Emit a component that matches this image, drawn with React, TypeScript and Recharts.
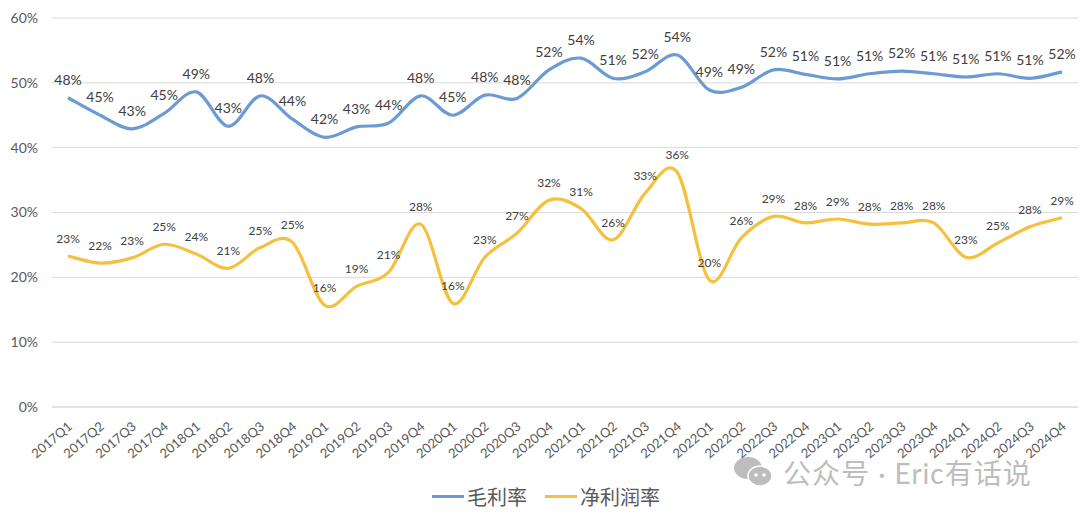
import React from 'react';
import { LineChart, Line, XAxis, YAxis, CartesianGrid, Legend, LabelList } from 'recharts';

const quarters = [
  '2017Q1', '2017Q2', '2017Q3', '2017Q4',
  '2018Q1', '2018Q2', '2018Q3', '2018Q4',
  '2019Q1', '2019Q2', '2019Q3', '2019Q4',
  '2020Q1', '2020Q2', '2020Q3', '2020Q4',
  '2021Q1', '2021Q2', '2021Q3', '2021Q4',
  '2022Q1', '2022Q2', '2022Q3', '2022Q4',
  '2023Q1', '2023Q2', '2023Q3', '2023Q4',
  '2024Q1', '2024Q2', '2024Q3', '2024Q4',
];

const grossMargin = [
  47.7, 45.0, 42.9, 45.3, 48.6, 43.3, 48.0, 44.4,
  41.6, 43.2, 43.8, 48.0, 45.0, 48.1, 47.6, 52.0,
  53.8, 50.7, 51.7, 54.3, 48.9, 49.3, 52.0, 51.3,
  50.6, 51.4, 51.8, 51.4, 50.9, 51.4, 50.7, 51.7,
];

const netMargin = [
  23.3, 22.2, 23.0, 25.1, 23.6, 21.4, 24.6, 25.4,
  15.7, 18.6, 20.8, 28.2, 16.0, 23.1, 26.8, 31.9,
  30.6, 25.8, 33.0, 36.2, 19.6, 26.1, 29.4, 28.4,
  29.0, 28.2, 28.4, 28.4, 23.1, 25.3, 27.8, 29.2,
];

const yTicks = [0, 10, 20, 30, 40, 50, 60];

const seriesNames = ['毛利率', '净利润率'];
const seriesColors = ['#6C9BD3', '#F5C03D'];

const data = quarters.map((q, i) => ({ q, gross: grossMargin[i], net: netMargin[i] }));

// Excel-like smoothed curve (Catmull-Rom as cubic Bezier)
const excelCurve: any = (context: any) => {
  let pts: number[][] = [];
  return {
    areaStart() {},
    areaEnd() {},
    lineStart() { pts = []; },
    point(x: number, y: number) { pts.push([+x, +y]); },
    lineEnd() {
      if (!pts.length) return;
      context.moveTo(pts[0][0], pts[0][1]);
      for (let i = 0; i < pts.length - 1; i++) {
        const p0 = pts[i - 1] || pts[i];
        const p1 = pts[i];
        const p2 = pts[i + 1];
        const p3 = pts[i + 2] || p2;
        const c1x = p1[0] + (p2[0] - p0[0]) / 6;
        const c1y = p1[1] + (p2[1] - p0[1]) / 6;
        const c2x = p2[0] - (p3[0] - p1[0]) / 6;
        const c2y = p2[1] - (p3[1] - p1[1]) / 6;
        context.bezierCurveTo(c1x, c1y, c2x, c2y, p2[0], p2[1]);
      }
    },
  };
};

const fmt = (v: any) => `${Math.round(Number(v))}%`;

const XTick = (props: any) => {
  const { x, y, payload } = props;
  const ax = x + 5;
  const ay = y + 21;
  return (
    <g opacity={0.99}>
      <text x={ax} y={ay} textAnchor="end" fontSize={13} fill="#595959" style={{ fill: '#595959' }} transform={`rotate(-40, ${ax}, ${ay})`}>
        {payload.value}
      </text>
    </g>
  );
};

const renderLegend = () => (
  <div style={{ display: 'flex', justifyContent: 'center', alignItems: 'center', fontSize: 20, color: '#595959' }}>
    {seriesNames.map((n, i) => (
      <div key={n} style={{ display: 'flex', alignItems: 'center', marginLeft: i === 0 ? 0 : 18 }}>
        <span style={{ display: 'inline-block', width: 32, height: 3, background: seriesColors[i], marginRight: 3 }} />
        <span>{n}</span>
      </div>
    ))}
  </div>
);

export default function App() {
  return (
    <div style={{ position: 'absolute', left: 0, top: 0, width: 1080, height: 517, background: '#fff', fontFamily: "Lato, 'Noto Sans CJK SC', sans-serif" }}>
      <LineChart width={1080} height={517} data={data} margin={{ top: 18, right: 2, left: 0, bottom: 50 }}>
        <CartesianGrid vertical={false} stroke="#D9D9D9" strokeWidth={1} />
        <XAxis
          dataKey="q"
          interval={0}
          height={60}
          padding={{ left: 16, right: 16 }}
          tickLine={false}
          axisLine={{ stroke: '#D9D9D9' }}
          tickSize={0}
          tickMargin={0}
          tick={<XTick />}
        />
        <YAxis
          width={52}
          domain={[0, 60]}
          ticks={yTicks}
          tickFormatter={(v) => `${v}%`}
          axisLine={false}
          tickLine={false}
          tickSize={0}
          tickMargin={14}
          tick={{ fontSize: 14, fill: '#595959' }}
        />
        <Legend
          verticalAlign="middle"
          align="center"
          content={renderLegend}
          wrapperStyle={{ position: 'absolute', top: 482, left: 6, width: 1080 }}
        />
        <Line
          name={seriesNames[0]}
          dataKey="gross"
          type={excelCurve}
          stroke={seriesColors[0]}
          strokeWidth={3.2}
          dot={false}
          activeDot={false}
          isAnimationActive={false}
        >
          <LabelList dataKey="gross" position="top" offset={13} formatter={fmt} fontSize={14} fill="#404040" />
        </Line>
        <Line
          name={seriesNames[1]}
          dataKey="net"
          type={excelCurve}
          stroke={seriesColors[1]}
          strokeWidth={3.2}
          dot={false}
          activeDot={false}
          isAnimationActive={false}
        >
          <LabelList dataKey="net" position="top" offset={13} formatter={fmt} fontSize={12} fill="#404040" />
        </Line>
      </LineChart>
      <div style={{ position: 'absolute', left: 733, top: 452, display: 'flex', alignItems: 'center', opacity: 0.75, pointerEvents: 'none' }}>
        <svg width={42} height={34} viewBox="0 0 42 34">
          <ellipse cx={15} cy={13} rx={14} ry={11} fill="#A8A8A8" />
          <ellipse cx={27} cy={21} rx={12} ry={10} fill="#A8A8A8" stroke="#fff" strokeWidth={1.5} />
          <circle cx={23} cy={20} r={1.8} fill="#fff" />
          <circle cx={31} cy={20} r={1.8} fill="#fff" />
        </svg>
        <span style={{ fontSize: 28, color: '#A8A8A8', marginLeft: 8, letterSpacing: 1, whiteSpace: 'nowrap' }}>公众号 · Eric有话说</span>
      </div>
    </div>
  );
}
